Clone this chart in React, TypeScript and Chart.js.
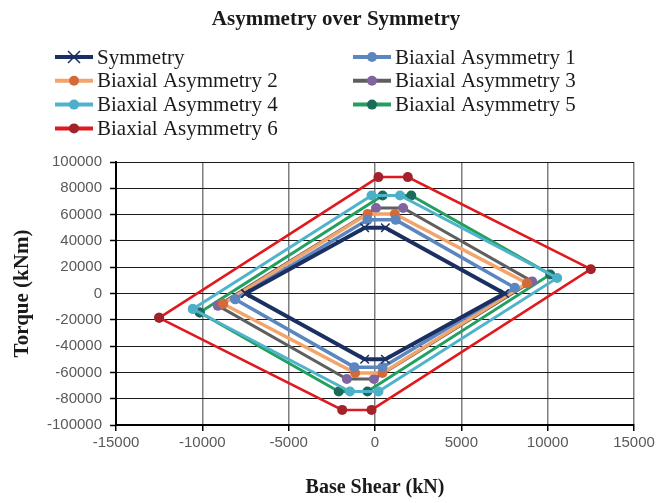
import React, { useEffect, useRef } from "react";
import { Chart, registerables } from "chart.js";

Chart.register(...registerables);

const chartTitle = "Asymmetry over Symmetry";
const xAxisTitle = "Base Shear (kN)";
const yAxisTitle = "Torque (kNm)";

const seriesNames = [
  "Symmetry",
  "Biaxial Asymmetry 1",
  "Biaxial Asymmetry 2",
  "Biaxial Asymmetry 3",
  "Biaxial Asymmetry 4",
  "Biaxial Asymmetry 5",
  "Biaxial Asymmetry 6",
];

// Base shear (kN) / torque (kNm) — closed envelopes
const symmetryX = [-7500, -600, 600, 7500, 600, -600, -7500];
const symmetryY = [0, 50000, 50000, 0, -50000, -50000, 0];

const ba1X = [-8100, -430, 1200, 8100, 430, -1200, -8100];
const ba1Y = [-4400, 56000, 56000, 4400, -56000, -56000, -4400];

const ba2X = [-8800, -430, 1150, 8800, 430, -1150, -8800];
const ba2Y = [-7800, 60500, 60500, 7800, -60500, -60500, -7800];

const ba3X = [-9100, 60, 1630, 9100, -60, -1630, -9100];
const ba3Y = [-9200, 65000, 65000, 9200, -65000, -65000, -9200];

const ba4X = [-10550, -200, 1450, 10550, 200, -1450, -10550];
const ba4Y = [-11800, 74500, 74500, 11800, -74500, -74500, -11800];

const ba5X = [-10150, 440, 2100, 10150, -440, -2100, -10150];
const ba5Y = [-14500, 74500, 74500, 14500, -74500, -74500, -14500];

const ba6X = [-12500, 200, 1900, 12500, -200, -1900, -12500];
const ba6Y = [-18500, 88500, 88500, 18500, -88500, -88500, -18500];

const xTickMin = -15000;
const xTickMax = 15000;
const xTickStep = 5000;
const yTickMin = -100000;
const yTickMax = 100000;
const yTickStep = 20000;

const seriesX = [symmetryX, ba1X, ba2X, ba3X, ba4X, ba5X, ba6X];
const seriesY = [symmetryY, ba1Y, ba2Y, ba3Y, ba4Y, ba5Y, ba6Y];

const lineColors = ["#1B2F63", "#5B86BF", "#F2A46A", "#5F5F5F", "#4FB3CB", "#22A060", "#E0191F"];
const markerColors = ["#1B2F63", "#5B86BF", "#D46A3A", "#8064A2", "#4BB0C8", "#1C6B5A", "#A3232A"];
const lineWidths = [4, 3.5, 3.5, 3, 3, 3, 2.5];

const overlayPlugin = {
  id: "overlay",
  afterDraw(chart: any) {
    const ctx = chart.ctx;
    ctx.save();
    ctx.fillStyle = "#1a1a1a";
    ctx.font = 'bold 21px "Liberation Serif"';
    ctx.textAlign = "center";
    ctx.textBaseline = "middle";
    ctx.fillText(chartTitle, 336, 20);

    ctx.font = '21px "Liberation Serif"';
    ctx.textAlign = "left";
    chart.data.datasets.forEach((ds: any, i: number) => {
      const col = i % 2;
      const row = Math.floor(i / 2);
      const x0 = col === 0 ? 55 : 353;
      const y = 57 + row * 23.8;
      ctx.strokeStyle = ds.borderColor;
      ctx.lineWidth = 4;
      ctx.beginPath();
      ctx.moveTo(x0, y);
      ctx.lineTo(x0 + 38, y);
      ctx.stroke();
      const cx = x0 + 19;
      if (i === 0) {
        ctx.lineWidth = 1.5;
        ctx.strokeStyle = "#1B2F63";
        ctx.beginPath();
        ctx.moveTo(cx - 6, y - 6);
        ctx.lineTo(cx + 6, y + 6);
        ctx.moveTo(cx - 6, y + 6);
        ctx.lineTo(cx + 6, y - 6);
        ctx.stroke();
      } else {
        ctx.fillStyle = ds.pointBackgroundColor;
        ctx.beginPath();
        ctx.arc(cx, y, 5, 0, Math.PI * 2);
        ctx.fill();
      }
      ctx.fillStyle = "#1a1a1a";
      ctx.fillText(seriesNames[i], x0 + 42, y + 1);
    });
    ctx.restore();
  },
};

export default function App() {
  const canvasRef = useRef<HTMLCanvasElement | null>(null);

  useEffect(() => {
    if (!canvasRef.current) return;
    const datasets = seriesNames.map((name, i) => ({
      label: name,
      data: seriesX[i].map((x, j) => ({ x, y: seriesY[i][j] })),
      showLine: true,
      borderColor: lineColors[i],
      backgroundColor: markerColors[i],
      pointBackgroundColor: markerColors[i],
      pointBorderColor: markerColors[i],
      borderWidth: lineWidths[i],
      pointStyle: i === 0 ? "crossRot" : "circle",
      pointRadius: i === 0 ? 6 : 5,
      pointBorderWidth: i === 0 ? 1.5 : 0,
      tension: 0,
      fill: false,
    }));

    const chart = new Chart(canvasRef.current, {
      type: "scatter",
      data: { datasets },
      plugins: [overlayPlugin],
      options: {
        animation: false,
        responsive: false,
        layout: { padding: { top: 162, right: 36, bottom: 0, left: 0 } },
        plugins: {
          legend: { display: false },
          title: { display: false },
          tooltip: { enabled: false },
        },
        scales: {
          x: {
            type: "linear",
            min: xTickMin,
            max: xTickMax,
            afterFit: (s: any) => {
              s.height = 78;
            },
            ticks: {
              stepSize: xTickStep,
              color: "#595959",
              font: { family: '"Liberation Sans"', size: 15 },
              padding: 3,
              maxRotation: 0,
              callback: (v: any) => String(v),
            },
            grid: {
              color: "#7F7F7F",
              lineWidth: 1.5,
              tickLength: 6,
              tickColor: "#000",
              tickWidth: 1.5,
            },
            border: { color: "#000", width: 2 },
            title: {
              display: true,
              text: xAxisTitle,
              color: "#1a1a1a",
              font: { family: '"Liberation Serif"', size: 20, weight: "bold" },
              padding: { top: 0, bottom: 3 },
            },
          },
          y: {
            type: "linear",
            min: yTickMin,
            max: yTickMax,
            afterFit: (s: any) => {
              s.width = 116;
            },
            ticks: {
              stepSize: yTickStep,
              color: "#595959",
              font: { family: '"Liberation Sans"', size: 15 },
              padding: 8,
              callback: (v: any) => String(v),
            },
            grid: {
              color: "#1a1a1a",
              lineWidth: 1,
              tickLength: 6,
              tickColor: "#000",
              tickWidth: 1.5,
            },
            border: { color: "#000", width: 2 },
            title: {
              display: true,
              text: yAxisTitle,
              color: "#1a1a1a",
              font: { family: '"Liberation Serif"', size: 21, weight: "bold" },
              padding: { top: 10, bottom: 0 },
            },
          },
        },
      },
    });
    return () => chart.destroy();
  }, []);

  return (
    <div style={{ position: "absolute", left: 0, top: 0, width: 670, height: 503, background: "#fff" }}>
      <canvas ref={canvasRef} width={670} height={503} style={{ display: "block" }} />
    </div>
  );
}
